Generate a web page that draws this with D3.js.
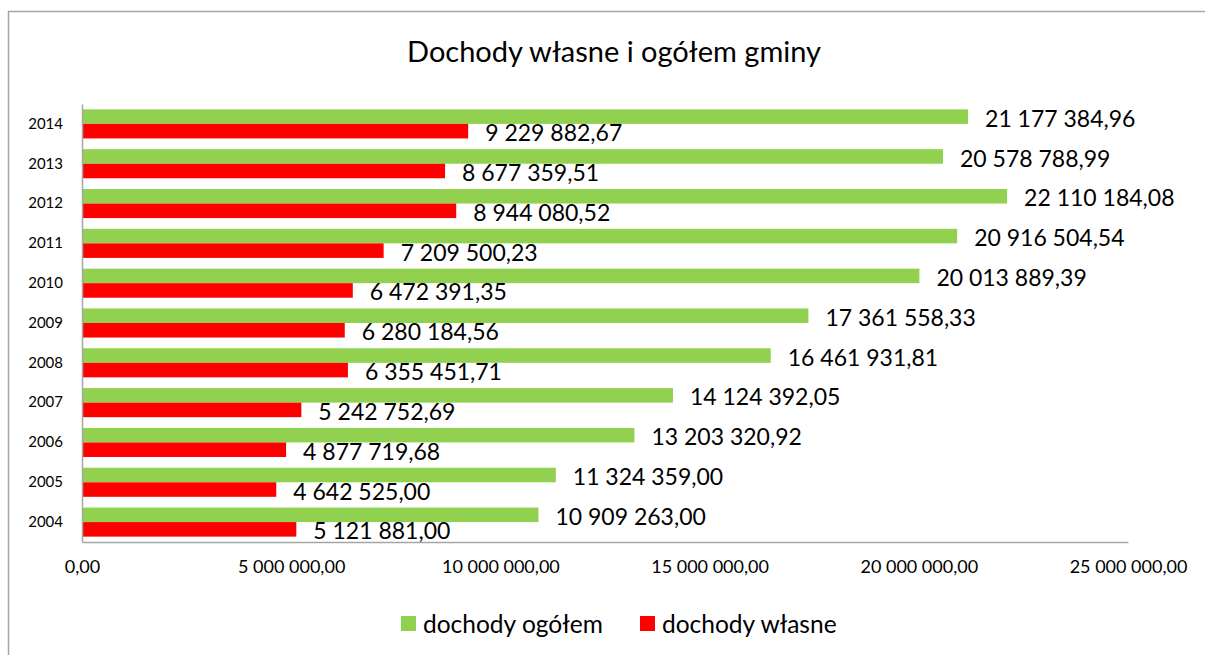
<!DOCTYPE html>
<html>
<head>
<meta charset="utf-8">
<script src="https://cdn.jsdelivr.net/npm/d3@7"></script>
<style>
  body { margin: 0; background: #fff; }
  svg { display: block; font-family: Lato, "Open Sans", sans-serif; }
</style>
</head>
<body>
<div id="chart"></div>
<script>
// Data
const years = ["2004", "2005", "2006", "2007", "2008", "2009", "2010", "2011", "2012", "2013", "2014"];
const dochodyOgolem = [10909263.00, 11324359.00, 13203320.92, 14124392.05, 16461931.81, 17361558.33, 20013889.39, 20916504.54, 22110184.08, 20578788.99, 21177384.96];
const dochodyWlasne = [5121881.00, 4642525.00, 4877719.68, 5242752.69, 6355451.71, 6280184.56, 6472391.35, 7209500.23, 8944080.52, 8677359.51, 9229882.67];
const xTicks = [0, 5000000, 10000000, 15000000, 20000000, 25000000];
const seriesNames = ["dochody ogółem", "dochody własne"];

const width = 1205;
const height = 655;
const marginTop = 104;
const marginBottom = 113;
const marginLeft = 82;
const marginRight = 77;

const green = "#92D050";
const red = "#FF0000";

// Polish number format: space as thousands separator, comma decimal
const plFormat = d3.formatLocale({
  decimal: ",",
  thousands: " ",
  grouping: [3],
  currency: ["", " zł"],
}).format(",.2f");

const x = d3.scaleLinear()
  .domain([0, 25000000])
  .range([marginLeft, width - marginRight]);

// 2014 on top
const y = d3.scaleBand()
  .domain(years.slice().reverse())
  .range([marginTop, height - marginBottom])
  .paddingInner(0.27)
  .paddingOuter(0.135);

const sub = d3.scaleBand()
  .domain(seriesNames)
  .range([0, y.bandwidth()]);

const rows = years.map((yr, i) => ({
  year: yr,
  values: [
    { key: seriesNames[0], value: dochodyOgolem[i], color: green },
    { key: seriesNames[1], value: dochodyWlasne[i], color: red },
  ],
}));

const svg = d3.select("#chart")
  .append("svg")
  .attr("width", width)
  .attr("height", height)
  .attr("viewBox", [0, 0, width, height]);

// Chart frame
svg.append("rect")
  .attr("x", 8.5)
  .attr("y", 11.5)
  .attr("width", 1400)
  .attr("height", 800)
  .attr("fill", "none")
  .attr("stroke", "#a6a6a6")
  .attr("stroke-width", 1.5);

// Title
svg.append("text")
  .attr("x", 614)
  .attr("y", 62)
  .attr("text-anchor", "middle")
  .attr("font-size", "29px")
  .attr("fill", "#000")
  .text("Dochody własne i ogółem gminy");

// Bars
const groups = svg.append("g")
  .selectAll("g")
  .data(rows)
  .join("g")
  .attr("transform", (d) => `translate(0,${y(d.year)})`);

groups.selectAll("rect")
  .data((d) => d.values)
  .join("rect")
  .attr("x", x(0))
  .attr("y", (d) => sub(d.key))
  .attr("width", (d) => x(d.value) - x(0))
  .attr("height", sub.bandwidth())
  .attr("fill", (d) => d.color);

// Data labels
groups.selectAll("text")
  .data((d) => d.values)
  .join("text")
  .attr("x", (d) => x(d.value) + 17)
  .attr("y", (d) => sub(d.key) + sub.bandwidth() / 2 + 2)
  .attr("dy", "0.35em")
  .attr("font-size", "23px")
  .attr("fill", "#000")
  .text((d) => plFormat(d.value));

// Y axis
svg.append("g")
  .attr("transform", `translate(${marginLeft},0)`)
  .call(d3.axisLeft(y).tickSize(0).tickPadding(19))
  .call((g) => g.select(".domain").attr("stroke", "#a6a6a6").attr("stroke-width", 1.5))
  .call((g) => g.selectAll(".tick text")
    .attr("font-size", "15px")
    .attr("font-family", "Lato, sans-serif")
    .attr("fill", "#000"));

// X axis
svg.append("g")
  .attr("transform", `translate(0,${height - marginBottom})`)
  .call(d3.axisBottom(x).tickValues(xTicks).tickSize(0).tickPadding(18).tickFormat(plFormat))
  .call((g) => g.select(".domain").attr("stroke", "#a6a6a6").attr("stroke-width", 1.5))
  .call((g) => g.selectAll(".tick text")
    .attr("font-size", "18px")
    .attr("font-family", "Lato, sans-serif")
    .attr("fill", "#000"));

// Legend
const legendX = [401, 640];
const legend = svg.append("g")
  .selectAll("g")
  .data(seriesNames)
  .join("g")
  .attr("transform", (d, i) => `translate(${legendX[i]},616)`);

legend.append("rect")
  .attr("width", 15)
  .attr("height", 15)
  .attr("fill", (d, i) => (i === 0 ? green : red));

legend.append("text")
  .attr("x", 22)
  .attr("y", 8)
  .attr("dy", "0.35em")
  .attr("font-size", "24.5px")
  .attr("fill", "#000")
  .text((d) => d);
</script>
</body>
</html>
